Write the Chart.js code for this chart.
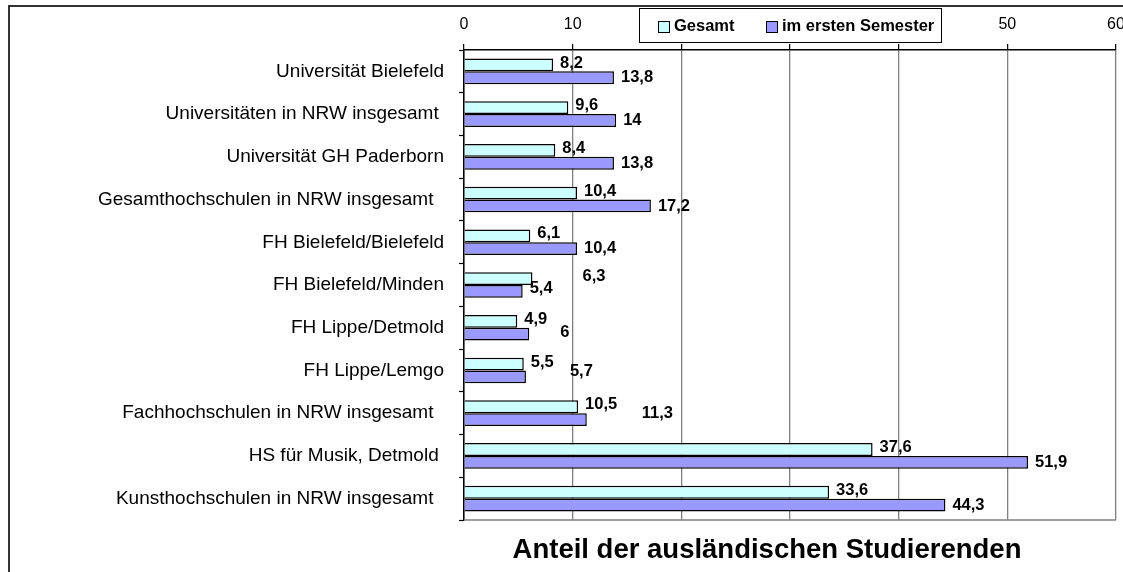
<!DOCTYPE html>
<html>
<head>
<meta charset="utf-8">
<script src="https://cdn.jsdelivr.net/npm/chart.js@4.4.1/dist/chart.umd.min.js"></script>
<style>
html,body{margin:0;padding:0;background:#fff;}
canvas{display:block;}
</style>
</head>
<body>
<canvas id="c" width="1123" height="572" style="width:1123px;height:572px"></canvas>
<script>
const categories = [
  "Universität Bielefeld",
  "Universitäten in NRW insgesamt ",
  "Universität GH Paderborn",
  "Gesamthochschulen in NRW insgesamt  ",
  "FH Bielefeld/Bielefeld",
  "FH Bielefeld/Minden",
  "FH Lippe/Detmold",
  "FH Lippe/Lemgo",
  "Fachhochschulen in NRW insgesamt  ",
  "HS für Musik, Detmold ",
  "Kunsthochschulen in NRW insgesamt  "
];
const seriesNames = ["Gesamt", "im ersten Semester"];
const gesamt = [8.2, 9.6, 8.4, 10.4, 6.1, 6.3, 4.9, 5.5, 10.5, 37.6, 33.6];
const ersteSemester = [13.8, 14, 13.8, 17.2, 10.4, 5.4, 6, 5.7, 11.3, 51.9, 44.3];
const xTicks = [0, 10, 20, 30, 40, 50, 60];
const titleText = "Anteil der ausländischen Studierenden";

// label nudges (annotation styling, as in the original)
const labelNudge = {"0-5": [43, 0], "1-5": [0, -3], "1-6": [24, -2], "1-7": [37, -5], "1-8": [48, -6]};

const FONT = "'Liberation Sans', Arial, Helvetica, sans-serif";

const decoPlugin = {
  id: 'deco',
  afterDraw(chart) {
    const ctx = chart.ctx;
    const a = chart.chartArea;
    ctx.save();
    // plot bottom border
    ctx.strokeStyle = '#808080';
    ctx.lineWidth = 1.5;
    ctx.beginPath();
    ctx.moveTo(a.left, a.bottom);
    ctx.lineTo(a.right, a.bottom);
    ctx.stroke();
    // outer frame
    ctx.strokeStyle = '#333';
    ctx.lineWidth = 2;
    ctx.beginPath();
    ctx.moveTo(9, 572);
    ctx.lineTo(9, 6);
    ctx.lineTo(1123, 6);
    ctx.stroke();

    // data labels
    ctx.font = "bold 16.5px " + FONT;
    ctx.fillStyle = '#000';
    ctx.textAlign = 'left';
    ctx.textBaseline = 'middle';
    chart.data.datasets.forEach((ds, di) => {
      const meta = chart.getDatasetMeta(di);
      meta.data.forEach((el, i) => {
        const v = ds.data[i];
        const txt = String(v).replace('.', ',');
        const n = labelNudge[di + '-' + i] || [0, 0];
        const dy = di === 0 ? -2 : 0;
        ctx.fillText(txt, el.x + 7 + n[0], el.y + dy + n[1]);
      });
    });

    // legend
    const lx = 639.5, ly = 8.5, lw = 302, lh = 34;
    ctx.fillStyle = '#fff';
    ctx.fillRect(lx, ly, lw, lh);
    ctx.strokeStyle = '#000';
    ctx.lineWidth = 1;
    ctx.strokeRect(lx, ly, lw, lh);
    const items = [
      {x: 658.5, tx: 674, color: '#CCFFFF'},
      {x: 766.5, tx: 782, color: '#9999FF'}
    ];
    ctx.font = "bold 16.5px " + FONT;
    ctx.textBaseline = 'middle';
    items.forEach((it, k) => {
      ctx.fillStyle = it.color;
      ctx.fillRect(it.x, 21.5, 11, 11);
      ctx.strokeStyle = '#000';
      ctx.strokeRect(it.x, 21.5, 11, 11);
      ctx.fillStyle = '#000';
      ctx.fillText(chart.data.datasets[k].label, it.tx, 26);
    });

    // title
    ctx.font = "bold 27.5px " + FONT;
    ctx.textAlign = 'center';
    ctx.textBaseline = 'middle';
    ctx.fillStyle = '#000';
    ctx.fillText(titleText, 767, 550);
    ctx.restore();
  }
};

new Chart(document.getElementById('c'), {
  type: 'bar',
  data: {
    labels: categories,
    datasets: [
      {label: seriesNames[0], data: gesamt, backgroundColor: '#CCFFFF', borderColor: '#000', borderWidth: 1.5},
      {label: seriesNames[1], data: ersteSemester, backgroundColor: '#9999FF', borderColor: '#000', borderWidth: 1.5}
    ]
  },
  options: {
    indexAxis: 'y',
    responsive: false,
    animation: false,
    devicePixelRatio: 1,
    layout: {padding: {left: 0, top: 0, right: 7, bottom: 52}},
    datasets: {bar: {categoryPercentage: 0.6, barPercentage: 1}},
    plugins: {legend: {display: false}, tooltip: {enabled: false}, title: {display: false}},
    scales: {
      x: {
        position: 'top',
        min: 0, max: 60,
        afterBuildTicks(s) { s.ticks = xTicks.map(v => ({value: v})); },
        afterFit(s) { s.height = 50; s.paddingLeft = 0; s.paddingRight = 0; },
        ticks: {color: '#000', font: {family: FONT, size: 16}, padding: 10, maxRotation: 0},
        grid: {color: '#808080', lineWidth: 1.3, tickColor: '#000', tickLength: 6, tickWidth: 1.2, drawOnChartArea: true},
        border: {color: '#000', width: 1.5}
      },
      y: {
        afterFit(s) { s.width = 464; s.paddingTop = 0; s.paddingBottom = 0; },
        ticks: {color: '#000', font: {family: FONT, size: 19}, padding: 15, autoSkip: false},
        grid: {offset: true, drawOnChartArea: false, tickLength: 5, tickColor: '#000', tickWidth: 1.2},
        border: {color: '#000', width: 1.5}
      }
    }
  },
  plugins: [decoPlugin]
});
</script>
</body>
</html>
